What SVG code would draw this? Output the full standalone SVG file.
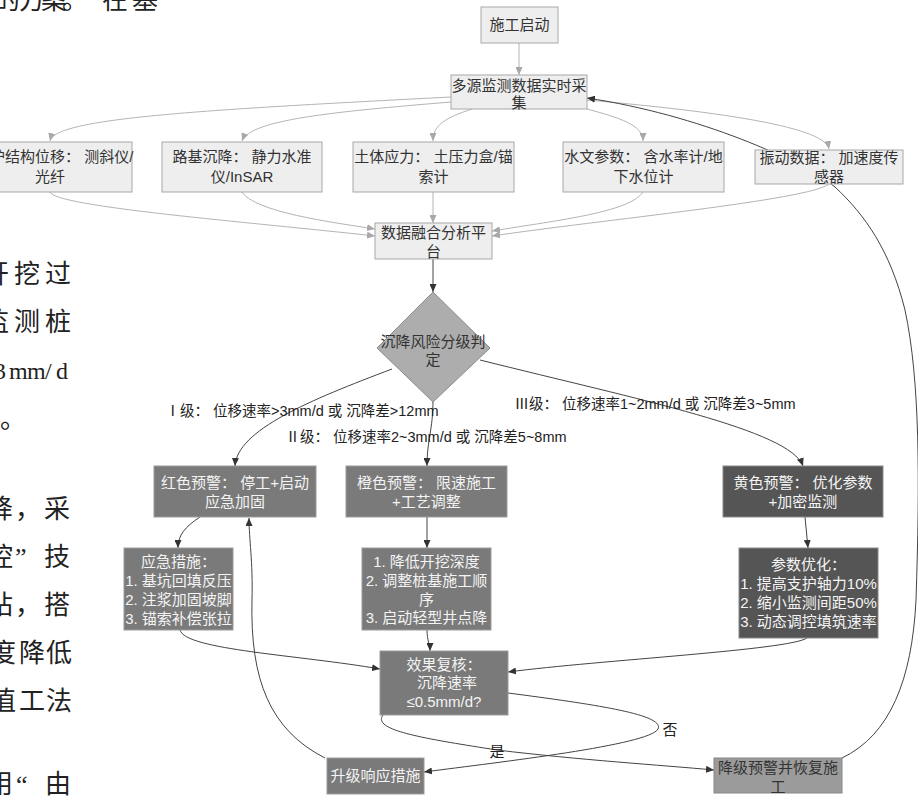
<svg xmlns="http://www.w3.org/2000/svg" width="918" height="801" viewBox="0 0 918 801">
<defs>
<style>
.t{font-family:"Liberation Sans","Noto Sans CJK SC",sans-serif;font-size:15px;text-anchor:middle}
.lt{fill:#333}
.wt{fill:#f4f4f4}
.lab{font-family:"Liberation Sans","Noto Sans CJK SC",sans-serif;font-size:14.5px;text-anchor:middle;fill:#222}
.rn{font-family:"Noto Sans CJK SC",sans-serif}
.body{font-family:"Liberation Serif","Noto Sans CJK SC",serif;font-size:26px;fill:#222}
.light{fill:#eeeeee;stroke:#a8a8a8;stroke-width:1}
.mid{fill:#7a7a7a;stroke:#9c9c9c;stroke-width:1}
.dark{fill:#555555;stroke:#8a8a8a;stroke-width:1}
.pale{fill:#9b9b9b;stroke:#888;stroke-width:1}
.cl{fill:none;stroke:#b4b4b4;stroke-width:1}
.cd{fill:none;stroke:#444;stroke-width:1}
</style>
<marker id="al" markerUnits="userSpaceOnUse" markerWidth="8" markerHeight="7" refX="8" refY="3.5" orient="auto"><path d="M0,0 L8,3.5 L0,7 z" fill="#a8a8a8"/></marker>
<marker id="ad" markerUnits="userSpaceOnUse" markerWidth="8" markerHeight="7" refX="8" refY="3.5" orient="auto"><path d="M0,0 L8,3.5 L0,7 z" fill="#333"/></marker>
</defs>
<rect width="918" height="801" fill="#fff"/>

<g id="page-text">
<text class="body" x="-6 19 41 62 102 132" y="9">的方案。在基</text>
<text class="body" x="-17 14 45" y="283">开挖过</text>
<text class="body" x="-17 14 45" y="331">监测桩</text>
<text class="body" x="-6 9 27 45 56" y="379" style="font-size:24px">3mm/d</text>
<text class="body" x="0" y="428">。</text>
<text class="body" x="-13 15 44" y="518">降，采</text>
<text class="body" x="-13 15 44" y="566">控”技</text>
<text class="body" x="-13 15 44" y="614">站，搭</text>
<text class="body" x="-10 19 46" y="662">度降低</text>
<text class="body" x="-10 19 46" y="710">值工法</text>
<text class="body" x="-13 16 45" y="793">用“由</text>
</g>

<g id="connectors">
<path class="cl" d="M519,43 L519,75" marker-end="url(#al)"/>
<path class="cl" d="M451,97 C200,110 55,118 50,141" marker-end="url(#al)"/>
<path class="cl" d="M451,102 C330,112 250,120 242,141" marker-end="url(#al)"/>
<path class="cl" d="M472,109 C445,118 433,125 433,141" marker-end="url(#al)"/>
<path class="cl" d="M587,109 C620,118 643,125 643,141" marker-end="url(#al)"/>
<path class="cl" d="M587,100 C700,110 825,125 829,149" marker-end="url(#al)"/>
<path class="cl" d="M50,192 C55,207 250,222 375,236" marker-end="url(#al)"/>
<path class="cl" d="M242,192 C255,212 330,222 375,229" marker-end="url(#al)"/>
<path class="cl" d="M433,192 L433,223" marker-end="url(#al)"/>
<path class="cl" d="M643,192 C630,212 560,220 492,231" marker-end="url(#al)"/>
<path class="cl" d="M829,184 C810,200 600,220 492,236" marker-end="url(#al)"/>
<path class="cd" d="M433,259 L433,292" marker-end="url(#ad)"/>
<path class="cd" d="M392,369 C310,400 237,430 235,466" marker-end="url(#ad)"/>
<path class="cd" d="M433,400 C433,430 427,440 427,466" marker-end="url(#ad)"/>
<path class="cd" d="M480,360 C640,400 790,430 803,466" marker-end="url(#ad)"/>
<path class="cd" d="M200,517 C185,527 178,535 178,548" marker-end="url(#ad)"/>
<path class="cd" d="M427,517 L427,548" marker-end="url(#ad)"/>
<path class="cd" d="M805,517 L808,548" marker-end="url(#ad)"/>
<path class="cd" d="M180,630 C185,650 300,655 380,669" marker-end="url(#ad)"/>
<path class="cd" d="M427,630 C427,640 430,645 430,651" marker-end="url(#ad)"/>
<path class="cd" d="M807,638 C790,650 600,660 508,672" marker-end="url(#ad)"/>
<path class="cd" d="M508,693 C600,705 665,715 658,729 C650,745 500,762 424,772" marker-end="url(#ad)"/>
<path class="cd" d="M383,715 C372,730 420,738 497,750 C580,760 660,765 714,770" marker-end="url(#ad)"/>
<path class="cd" d="M325,758 C270,730 250,680 252,600 C253,560 249,540 249,518" marker-end="url(#ad)"/>
<path class="cd" d="M842,758 C890,735 912,680 916,600 C920,480 920,380 905,310 C890,250 865,215 835,187 C800,160 700,115 587,98" marker-end="url(#ad)"/>
<text class="lab" x="302" y="416"><tspan class="rn">Ⅰ</tspan>级： 位移速率&gt;3mm/d 或 沉降差&gt;12mm</text>
<text class="lab" x="426" y="442"><tspan class="rn">Ⅱ</tspan>级： 位移速率2~3mm/d 或 沉降差5~8mm</text>
<text class="lab" x="655" y="409"><tspan class="rn">Ⅲ</tspan>级： 位移速率1~2mm/d 或 沉降差3~5mm</text>
<text class="lab" x="670" y="735" style="font-size:15px">否</text>
<text class="lab" x="497" y="757" style="font-size:15px">是</text>
</g>

<g id="start"><rect class="light" x="481" y="7" width="77" height="36"/><text class="t lt" x="519.5" y="30">施工启动</text></g>
<g id="collect"><rect class="light" x="451" y="75" width="136" height="34"/><text class="t lt" x="519" y="90.5">多源监测数据实时采</text><text class="t lt" x="519" y="107.5">集</text></g>
<g id="s1"><rect class="light" x="-32" y="142" width="164" height="50"/><text class="t lt" x="-25" y="162" style="text-anchor:start">支护结构位移： 测斜仪/</text><text class="t lt" x="50" y="182">光纤</text></g>
<g id="s2"><rect class="light" x="162" y="142" width="160" height="50"/><text class="t lt" x="242" y="162">路基沉降： 静力水准</text><text class="t lt" x="242" y="182">仪/InSAR</text></g>
<g id="s3"><rect class="light" x="353" y="142" width="161" height="50"/><text class="t lt" x="433.5" y="162">土体应力： 土压力盒/锚</text><text class="t lt" x="433.5" y="182">索计</text></g>
<g id="s4"><rect class="light" x="563" y="142" width="161" height="50"/><text class="t lt" x="643.5" y="162">水文参数： 含水率计/地</text><text class="t lt" x="643.5" y="182">下水位计</text></g>
<g id="s5"><rect class="light" x="755" y="150" width="148" height="34"/><text class="t lt" x="829" y="163">振动数据： 加速度传</text><text class="t lt" x="829" y="182">感器</text></g>
<g id="fusion"><rect class="light" x="375" y="223" width="117" height="36"/><text class="t lt" x="433.5" y="238">数据融合分析平</text><text class="t lt" x="433.5" y="257">台</text></g>
<g id="judge"><polygon points="433,292 490,348 433,402 377,348" fill="#adadad" stroke="#8c8c8c"/><text class="t lt" x="433" y="347">沉降风险分级判</text><text class="t lt" x="433" y="365">定</text></g>
<g id="red"><rect class="mid" x="154" y="466" width="162" height="51"/><text class="t wt" x="235" y="488">红色预警： 停工+启动</text><text class="t wt" x="235" y="507">应急加固</text></g>
<g id="orange"><rect class="mid" x="346" y="466" width="161" height="51"/><text class="t wt" x="426.5" y="488">橙色预警： 限速施工</text><text class="t wt" x="426.5" y="507">+工艺调整</text></g>
<g id="yellow"><rect class="dark" x="723" y="466" width="160" height="51"/><text class="t wt" x="803" y="488">黄色预警： 优化参数</text><text class="t wt" x="803" y="507">+加密监测</text></g>
<g id="emergency"><rect class="mid" x="124" y="548" width="109" height="82"/><text class="t wt" x="178.5" y="567">应急措施：</text><text class="t wt" x="178.5" y="586">1. 基坑回填反压</text><text class="t wt" x="178.5" y="605">2. 注浆加固坡脚</text><text class="t wt" x="178.5" y="624">3. 锚索补偿张拉</text></g>
<g id="steps"><rect class="mid" x="362" y="548" width="129" height="82"/><text class="t wt" x="426.5" y="567">1. 降低开挖深度</text><text class="t wt" x="426.5" y="586">2. 调整桩基施工顺</text><text class="t wt" x="426.5" y="605">序</text><text class="t wt" x="426.5" y="623">3. 启动轻型井点降</text></g>
<g id="optimize"><rect class="dark" x="739" y="548" width="139" height="90"/><text class="t wt" x="808.5" y="570">参数优化：</text><text class="t wt" x="808.5" y="589">1. 提高支护轴力10%</text><text class="t wt" x="808.5" y="608">2. 缩小监测间距50%</text><text class="t wt" x="808.5" y="627">3. 动态调控填筑速率</text></g>
<g id="review"><rect class="mid" x="380" y="651" width="128" height="64"/><text class="t wt" x="444" y="670">效果复核：</text><text class="t wt" x="447" y="688">沉降速率</text><text class="t wt" x="444" y="707">≤0.5mm/d?</text></g>
<g id="escalate"><rect class="mid" x="327" y="758" width="97" height="36"/><text class="t wt" x="375.5" y="781">升级响应措施</text></g>
<g id="downgrade"><rect class="pale" x="714" y="758" width="128" height="35"/><text class="t lt" x="778" y="773">降级预警并恢复施</text><text class="t lt" x="778" y="792">工</text></g>
</svg>
